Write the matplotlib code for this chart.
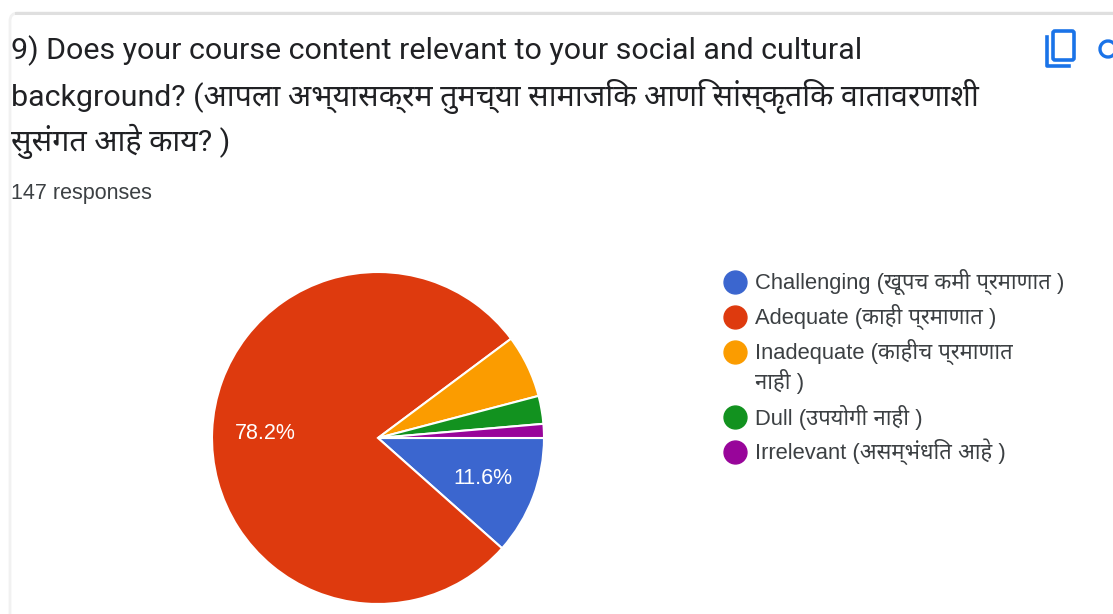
import matplotlib
matplotlib.use("Agg")
import matplotlib.pyplot as plt
from matplotlib.patches import Arc, FancyBboxPatch
from matplotlib.lines import Line2D
import logging
logging.getLogger("matplotlib.font_manager").setLevel(logging.ERROR)

W, H = 1113, 614
labels = ["Challenging (खूपच कमी प्रमाणात )", "Adequate (काही प्रमाणात )",
          "Inadequate (काहीच प्रमाणात\nनाही )", "Dull (उपयोगी नाही )",
          "Irrelevant (असम्भंधित आहे )"]
counts = [17, 115, 9, 4, 2]
colors = ["#3b66cf", "#de3a0e", "#fb9c00", "#12921f", "#98059a"]
pct_labels = ["11.6%", "78.2%"]
title_lines = ["9) Does your course content relevant to your social and cultural",
               "background? (आपला अभ्यासक्रम तुमच्या सामाजिक आणि सांस्कृतिक वातावरणाशी",
               "सुसंगत आहे काय? )"]
responses = "147 responses"

deva = ['Noto Sans Devanagari', 'Hind', 'Mukta', 'Biryani']
title_font = ['Roboto'] + deva + ['DejaVu Sans']
body_font = ['Liberation Sans'] + deva + ['DejaVu Sans']
plt.rcParams['font.family'] = body_font

fig = plt.figure(figsize=(W/100, H/100), dpi=100)
bg = fig.add_axes([0, 0, 1, 1])
bg.set_xlim(0, W)
bg.set_ylim(H, 0)
bg.axis("off")
# card: faint left edge, stronger top edge
bg.add_patch(FancyBboxPatch((10, 13), 1300, 900, boxstyle="round,pad=0,rounding_size=8",
                            fc="white", ec="#f1f1f1", lw=2))
bg.add_line(Line2D([16, W], [13, 13], color="#dfdfdf", lw=2.2))

for y, line in zip([51, 96, 141], title_lines):
    bg.text(11, y, line, fontsize=21.9, color="#202124", va="center", family=title_font)
bg.text(11, 193, responses, fontsize=15.5, color="#3c4043", va="center")

# copy icon and the cut off search icon next to it
blue = "#1a73e8"
bg.add_patch(FancyBboxPatch((1053, 31), 21, 29, boxstyle="round,pad=0,rounding_size=2",
                            fc="none", ec=blue, lw=2.6))
bg.add_line(Line2D([1046.5, 1046.5, 1069], [37, 66, 66], color=blue, lw=2.6))
bg.add_patch(Arc((1108, 49), 16, 16, fc="none", ec=blue, lw=2.4))

ax = fig.add_axes([212/W, 1-604/H, 332/W, 332/H])
ax.pie(counts, colors=colors, startangle=0, counterclock=False, radius=1,
       wedgeprops=dict(ec="white", lw=1.5))
ax.set_xlim(-1, 1)
ax.set_ylim(-1, 1)
ax.text(-0.68, 0.025, pct_labels[1], color="white", fontsize=15.5, ha="center", va="center")
ax.text(0.63, -0.245, pct_labels[0], color="white", fontsize=15.5, ha="center", va="center")

ys = [282, 317, 352, 417, 452]
for y, lab, col in zip(ys, labels, colors):
    bg.add_line(Line2D([735], [y], marker="o", ms=16.5, color=col, mec=col))
    for i, ln in enumerate(lab.split("\n")):
        bg.text(755, y + i*29, ln, fontsize=15.8, color="#3c4043", va="center")

fig.savefig("out.png", dpi=100)
